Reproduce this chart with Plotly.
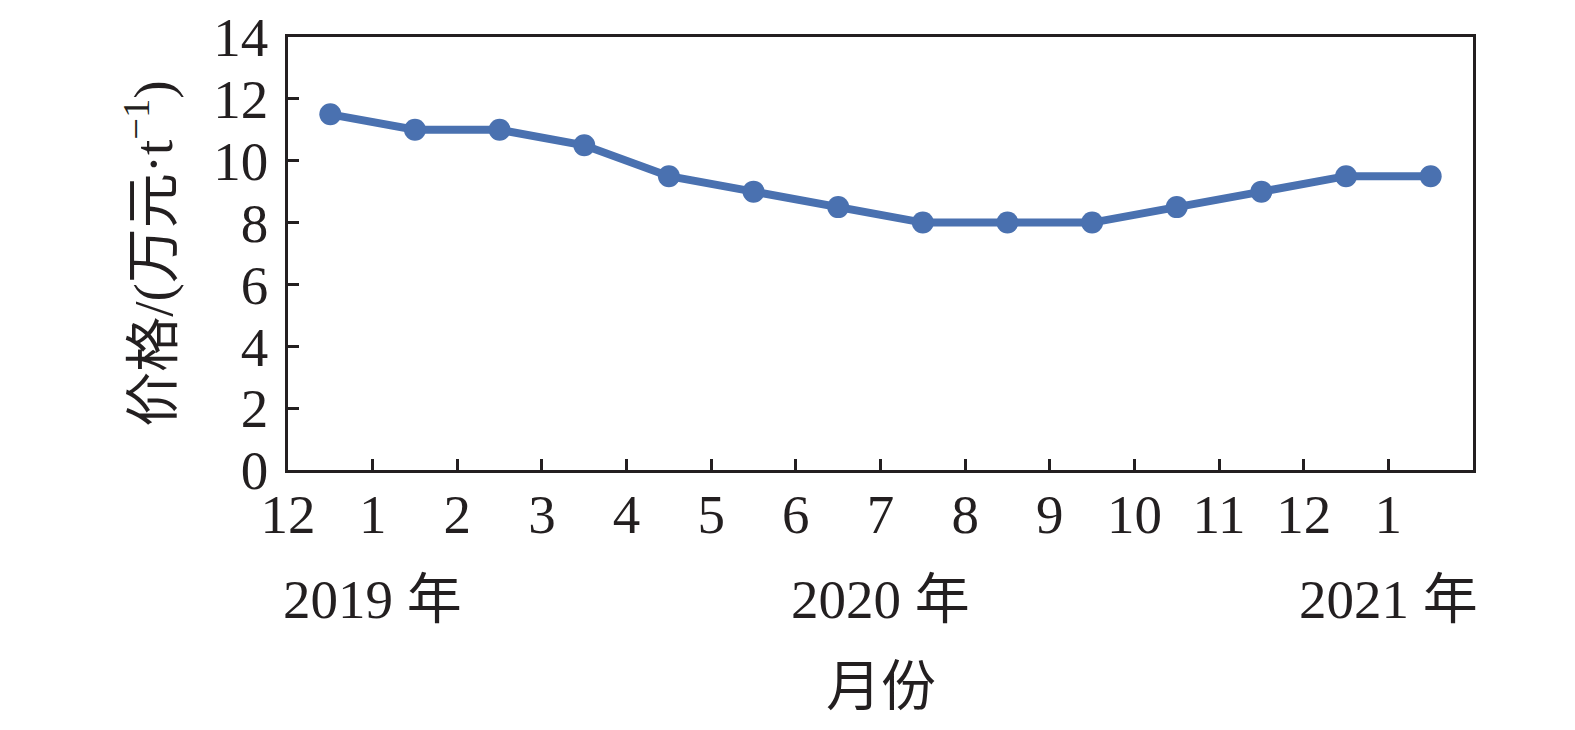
import plotly.graph_objects as go

# Data
month_labels = ["12", "1", "2", "3", "4", "5", "6", "7", "8", "9", "10", "11", "12", "1"]
prices = [11.5, 11.0, 11.0, 10.5, 9.5, 9.0, 8.5, 8.0, 8.0, 8.0, 8.5, 9.0, 9.5, 9.5]
year_labels = ["2019 年", "2020 年", "2021 年"]
year_tick_pos = [1, 7, 13]
y_ticks = [0, 2, 4, 6, 8, 10, 12, 14]

tick_pos = list(range(len(month_labels)))
point_x = [i + 0.5 for i in range(len(prices))]

FONT = "Liberation Serif, Times New Roman, Noto Sans CJK SC, serif"
COLOR = "#4a71b0"
AX = "#231f20"
FS = 55

fig = go.Figure()
fig.add_trace(go.Scatter(
    x=point_x, y=prices, mode="lines+markers",
    line=dict(color=COLOR, width=8),
    marker=dict(color=COLOR, size=22),
    showlegend=False, hoverinfo="skip",
))

fig.update_layout(
    width=1559, height=714,
    margin=dict(l=280, r=94, t=29, b=252, autoexpand=False),
    paper_bgcolor="white", plot_bgcolor="white",
    font=dict(family=FONT, size=FS, color=AX),
    xaxis=dict(
        range=[0, 14], tickmode="array", tickvals=tick_pos, ticktext=month_labels,
        ticks="inside", ticklen=11, tickwidth=2.5, tickcolor=AX,
        showline=True, linewidth=2.5, linecolor=AX, mirror=True, automargin=False,
        showgrid=False, zeroline=False, tickfont=dict(size=FS, family=FONT, color=AX),
        ticklabelstandoff=-6, ticklabeloverflow="allow",
    ),
    yaxis=dict(
        range=[0, 14], tickmode="array", tickvals=y_ticks,
        ticks="inside", ticklen=11, tickwidth=2.5, tickcolor=AX,
        showline=True, linewidth=2.5, linecolor=AX, mirror=True, automargin=False,
        showgrid=False, zeroline=False, tickfont=dict(size=FS, family=FONT, color=AX),
        ticklabelstandoff=6, ticklabeloverflow="allow",
    ),
)

for txt, xp in zip(year_labels, year_tick_pos):
    fig.add_annotation(x=xp, y=-0.30, xref="x", yref="paper", text=txt,
                       showarrow=False, xanchor="center", yanchor="middle",
                       font=dict(size=FS, family=FONT, color=AX))

fig.add_annotation(x=0.5, y=-0.50, xref="paper", yref="paper", text="月份",
                   showarrow=False, xanchor="center", yanchor="middle",
                   font=dict(size=FS, family=FONT, color=AX))

fig.add_annotation(x=-0.117, y=0.5, xref="paper", yref="paper",
                   text="价格/(万元·t<sup>−1</sup>)", textangle=-90,
                   showarrow=False, xanchor="center", yanchor="middle",
                   font=dict(size=FS, family=FONT, color=AX))

fig.write_html("out.html")
